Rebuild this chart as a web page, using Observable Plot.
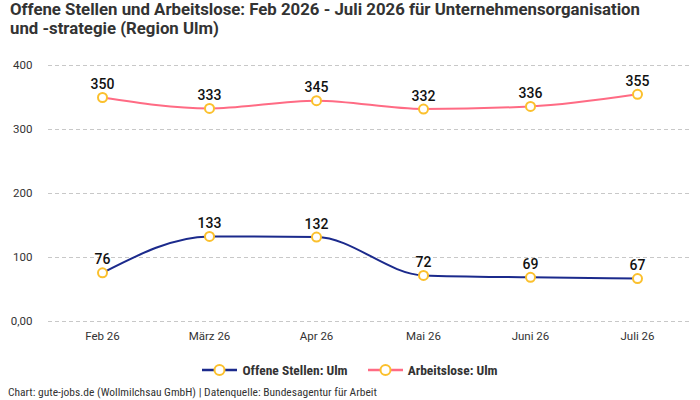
<!DOCTYPE html>
<html><head><meta charset="utf-8">
<script src="https://cdn.jsdelivr.net/npm/d3@7"></script>
<script src="https://cdn.jsdelivr.net/npm/@observablehq/plot@0.6"></script>
<style>
body{margin:0;background:#fff;font-family:Roboto,sans-serif;}
#title{position:absolute;left:10px;top:0px;width:650px;font-size:16.8px;font-weight:bold;color:#333;line-height:19px;}
#chart{position:absolute;left:0;top:50px;}
#legend{position:absolute;top:362px;left:0;width:700px;text-align:center;font-size:13.5px;font-weight:bold;color:#333;font-family:"Roboto Condensed",Roboto,sans-serif;}
#legend span.item{display:inline-flex;align-items:center;margin:0 10px;}
#caption{position:absolute;left:8px;top:385px;font-size:11.5px;color:#333;font-family:"Roboto Condensed",Roboto,sans-serif;}
</style></head><body>
<div id="title">Offene Stellen und Arbeitslose: Feb 2026 - Juli 2026 für Unternehmensorganisation und -strategie (Region Ulm)</div>
<div id="chart"></div>
<div id="legend"></div>
<div id="caption">Chart: gute-jobs.de (Wollmilchsau GmbH) | Datenquelle: Bundesagentur für Arbeit</div>
<script>
const months = ["Feb 26","März 26","Apr 26","Mai 26","Juni 26","Juli 26"];
const offeneStellen = [76,133,132,72,69,67];
const arbeitslose = [350,333,345,332,336,355];
const seriesNames = ["Offene Stellen: Ulm","Arbeitslose: Ulm"];
const seriesColors = ["#1b2a8c","#ff6b84"];
const pointColor = "#fbc02d";
const yTicks = [0,100,200,300,400];

const data = [];
months.forEach((m,i)=>{
  data.push({month:m, value:offeneStellen[i], series:seriesNames[0]});
  data.push({month:m, value:arbeitslose[i], series:seriesNames[1]});
});

const plot = Plot.plot({
  width:700, height:300,
  marginTop:15, marginBottom:29, marginLeft:48, marginRight:10,
  style:{fontFamily:"Roboto, sans-serif", fontSize:"12px", color:"#333", background:"#fff"},
  x:{type:"point", domain:months, padding:0.5, label:null},
  y:{domain:[0,400], label:null},
  color:{domain:seriesNames, range:seriesColors},
  marks:[
    Plot.ruleY(yTicks,{stroke:"#c8c8c8", strokeDasharray:"4,3", strokeWidth:1}),
    Plot.axisY({ticks:yTicks, tickSize:0, tickPadding:16, tickFormat:d=>d===0?"0,00":String(d), fontSize:11.5}),
    Plot.axisX({tickSize:0, tickPadding:10, fontSize:11.5}),
    Plot.line(data,{x:"month", y:"value", z:"series", stroke:"series", strokeWidth:2, curve:"monotone-x"}),
    Plot.dot(data,{x:"month", y:"value", r:4.5, fill:"#fff", stroke:pointColor, strokeWidth:2}),
    Plot.text(data,{x:"month", y:"value", text:d=>String(d.value), dy:-13, fontSize:14, fontWeight:500, fill:"#111"})
  ]
});
document.getElementById("chart").appendChild(plot);

const legend = document.getElementById("legend");
seriesNames.forEach((n,i)=>{
  const s = document.createElement("span");
  s.className="item";
  s.innerHTML = `<svg width="35" height="14" style="margin-right:5px"><line x1="0" x2="35" y1="7" y2="7" stroke="${seriesColors[i]}" stroke-width="2.5"/><circle cx="17.5" cy="7" r="5" fill="#fff" stroke="${pointColor}" stroke-width="2"/></svg>${n}`;
  legend.appendChild(s);
});
</script>
</body></html>
